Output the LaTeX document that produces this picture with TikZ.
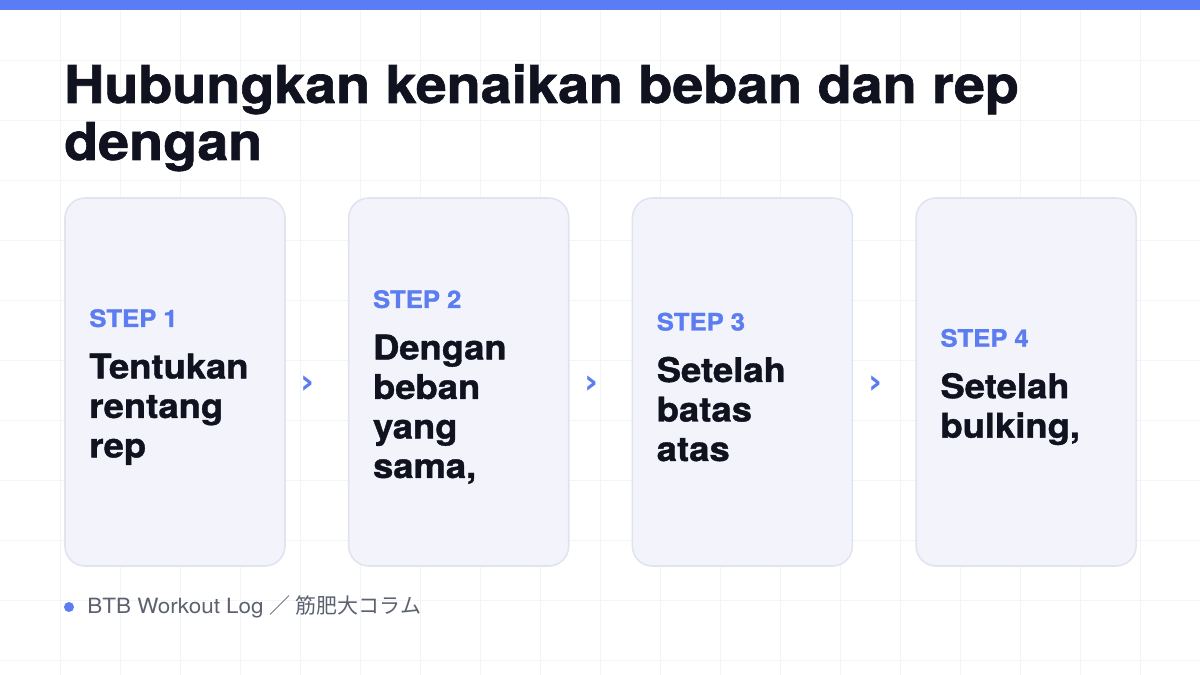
\documentclass[tikz,border=0pt]{standalone}
\usepackage{fontspec}
\setmainfont{TeX Gyre Heros}[FakeStretch=1.07, BoldFeatures={FakeBold=1.2}]
\newfontfamily\cjk{Noto Sans CJK JP}
\newfontfamily\chevfont{DejaVu Sans}
\usetikzlibrary{positioning,calc}

\definecolor{topblue}{HTML}{5B7CF5}
\definecolor{stepblue}{HTML}{5B7DF0}
\definecolor{titleink}{HTML}{10131F}
\definecolor{cardfill}{HTML}{F3F4FB}
\definecolor{cardline}{HTML}{E1E4EF}
\definecolor{gridline}{HTML}{F3F4F6}
\definecolor{footink}{HTML}{5C6170}

\tikzset{
  card/.style={draw=cardline, fill=cardfill, line width=1.6pt, rounded corners=20pt,
    minimum width=220pt, minimum height=368pt, inner sep=0pt},
  cardtext/.style={text width=195pt, align=left, inner sep=0pt, anchor=west, text=titleink},
  chevron/.style={text=stepblue, font=\chevfont\bfseries\fontsize{34}{34}\selectfont, inner sep=0pt},
}
\newcommand{\steplabel}[1]{{\color{stepblue}\bfseries\fontsize{24}{28}\selectfont STEP\hspace{7pt}#1\par}\vspace{12pt}}
\newcommand{\stepbody}{\bfseries\fontsize{34}{39.5}\selectfont}

\begin{document}
\begin{tikzpicture}[x=1pt, y=-1pt]
    \useasboundingbox (0,0) rectangle (1200,675);

    % Raster
    \foreach \g in {60,120,...,1140}
      \draw[gridline, line width=0.8pt] (\g,0) -- (\g,675);
    \foreach \g in {60,120,...,660}
      \draw[gridline, line width=0.8pt] (0,\g) -- (1200,\g);

    % Balken oben
    \fill[topblue] (0,0) rectangle (1200,10);

    % Titel
    \node[anchor=north west, inner sep=0pt, align=left, text=titleink,
          font=\bfseries\fontsize{52}{57}\selectfont] (title) at (64,64)
      {Hubungkan kenaikan beban dan rep\\dengan};

    % Karten
    \foreach \i/\txt in {1/{Tentukan\\rentang\\rep},
                         2/{Dengan\\beban\\yang\\sama,},
                         3/{Setelah\\batas\\atas},
                         4/{Setelah\\bulking,}}
      {
        \node[card] (c\i) at ({175+283.7*(\i-1)},382) {};
        \node[cardtext, right=25pt of c\i.west, yshift=-5pt] (t\i)
          {\steplabel{\i}\stepbody\txt\par};
      }

    % Pfeile
    \foreach \i in {1,2,3}
      \node[chevron] (a\i) at ($(c\i.east)+(22,3)$) {›};

    % Fusszeile
    \node[circle, fill=stepblue, inner sep=0pt, minimum size=10pt] (dot) at (69,607) {};
    \node[right=13pt of dot, inner sep=0pt, text=footink, font=\fontsize{21}{24}\selectfont] (foot)
      {BTB Workout Log {\cjk ／\ 筋肥大コラム}};

\end{tikzpicture}
\end{document}
